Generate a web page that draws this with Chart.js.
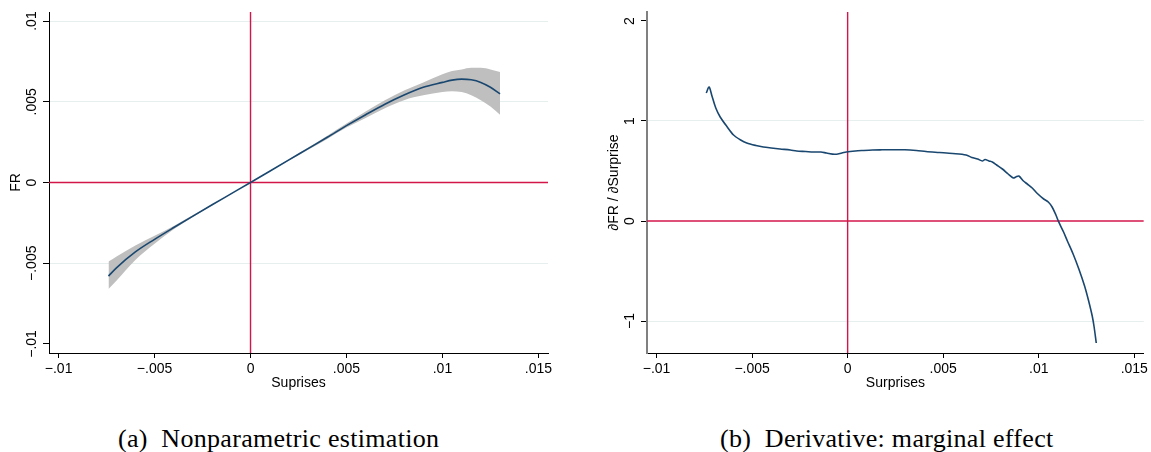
<!DOCTYPE html>
<html>
<head>
<meta charset="utf-8">
<script src="https://cdn.jsdelivr.net/npm/chart.js@4.4.0/dist/chart.umd.min.js"></script>
<style>
  html, body { margin: 0; padding: 0; background: #fff; }
  #wrap { position: relative; width: 1151px; height: 452px; overflow: hidden; }
  canvas { position: absolute; top: 0; }
  #fit { left: 0; }
  #deriv { left: 575px; }
  .cap { position: absolute; top: 424px; font-family: "Liberation Serif", "DejaVu Serif", serif; font-size: 26px; letter-spacing: 0.3px; color: #000; white-space: pre; }
</style>
</head>
<body>
<div id="wrap">
  <canvas id="fit" width="575" height="400"></canvas>
  <canvas id="deriv" width="576" height="400"></canvas>
  <div class="cap" style="left:118px">(a)  Nonparametric estimation</div>
  <div class="cap" style="left:720px">(b)  Derivative: marginal effect</div>
</div>
<script>
// (a) estimativa não paramétrica: FR em função da surpresa, com banda de confiança
const surpriseX = [-0.0074, -0.007, -0.006, -0.005, -0.004, -0.003, -0.002, -0.001, 0, 0.001, 0.002, 0.003, 0.004,
  0.005, 0.006, 0.007, 0.008, 0.009, 0.01, 0.0105, 0.011, 0.0115, 0.012, 0.0125, 0.013];
const fitFR = [-0.0058, -0.0053, -0.0043, -0.00352, -0.00279, -0.00208, -0.00138, -0.00069, 0, 0.0007, 0.0014, 0.0021, 0.0028,
  0.00352, 0.0042, 0.00485, 0.00542, 0.0059, 0.0062, 0.00634, 0.0064, 0.00636, 0.0062, 0.0059, 0.00549];
const ciUpper = [-0.0049, -0.0046, -0.0039, -0.0033, -0.0027, -0.00202, -0.00135, -0.00068, 0, 0.00072, 0.00144, 0.00217, 0.0029,
  0.00365, 0.0044, 0.0051, 0.0057, 0.0062, 0.0067, 0.0069, 0.007, 0.0071, 0.0071, 0.007, 0.00685];
const ciLower = [-0.0066, -0.0061, -0.0048, -0.0038, -0.0029, -0.00213, -0.00141, -0.0007, 0, 0.00068, 0.00136, 0.00203, 0.0027,
  0.0034, 0.004, 0.0046, 0.0051, 0.0054, 0.0056, 0.00565, 0.0056, 0.0054, 0.0051, 0.0047, 0.0042];

// (b) derivada: efeito marginal
const derivX = [-0.0074, -0.00725, -0.0071, -0.0069, -0.00667, -0.0063, -0.00597, -0.0056, -0.00528, -0.0048, -0.00441, -0.004,
  -0.00354, -0.003, -0.00267, -0.0022, -0.0018, -0.0014, -0.00111, -0.00068, -0.0003, -0.00007, 0.0004, 0.0008, 0.0013, 0.0018,
  0.0022, 0.003, 0.0036, 0.0041, 0.0048, 0.0055, 0.0062, 0.0065, 0.0068, 0.00705, 0.00719, 0.0074, 0.00757, 0.0078, 0.0081,
  0.0084, 0.00867, 0.0088, 0.00896, 0.0092, 0.0094, 0.00966, 0.0099, 0.01026, 0.0105, 0.0107, 0.0109, 0.01104, 0.0113, 0.0115,
  0.0118, 0.0121, 0.0124, 0.0126, 0.0128, 0.0129, 0.01301];
const derivY = [1.28, 1.34, 1.25, 1.13, 1.04, 0.94, 0.86, 0.81, 0.78, 0.755, 0.74, 0.73,
  0.72, 0.71, 0.70, 0.695, 0.69, 0.69, 0.68, 0.667, 0.68, 0.69, 0.70, 0.705, 0.71, 0.712,
  0.713, 0.712, 0.705, 0.695, 0.685, 0.675, 0.66, 0.635, 0.62, 0.60, 0.615, 0.60, 0.59, 0.56, 0.52,
  0.47, 0.43, 0.44, 0.45, 0.40, 0.37, 0.33, 0.28, 0.22, 0.19, 0.14, 0.06, -0.007, -0.11, -0.20,
  -0.33, -0.48, -0.65, -0.79, -0.95, -1.06, -1.22];

// eixos
const xTicks = [-0.01, -0.005, 0, 0.005, 0.01, 0.015];
const xTickLabels = ['\u2212.01', '\u2212.005', '0', '.005', '.01', '.015'];
const frTicks = [-0.01, -0.005, 0, 0.005, 0.01];
const frTickLabels = ['\u2212.01', '\u2212.005', '0', '.005', '.01'];
const frGridAt = [-0.005, 0.005, 0.01];
const dTicks = [-1, 0, 1, 2];
const dTickLabels = ['\u22121', '0', '1', '2'];
const dGridAt = [-1, 1];

const NAVY = '#1a476f', RED = '#d3164a', BAND = '#bfbfbf', GRID = '#e6eeee';
const SANS = '"Liberation Sans", Arial, sans-serif';

Chart.defaults.font.family = SANS;
Chart.defaults.font.size = 14;
Chart.defaults.color = '#000';

function pts(xs, ys) {
  return xs.map((x, i) => ({ x: x, y: ys[i] }));
}

// rótulos do eixo y girados 90° (estilo Stata)
function yLabelsPlugin(labels) {
  return {
    id: 'yLabels',
    afterDraw(chart) {
      const y = chart.scales.y;
      const ctx = chart.ctx;
      ctx.save();
      ctx.fillStyle = '#000';
      ctx.font = '14px ' + SANS;
      ctx.textAlign = 'center';
      ctx.textBaseline = 'middle';
      y.ticks.forEach((t, i) => {
        ctx.save();
        ctx.translate(chart.chartArea.left - 17, y.getPixelForValue(t.value));
        ctx.rotate(-Math.PI / 2);
        ctx.fillText(labels[i], 0, 0);
        ctx.restore();
      });
      ctx.restore();
    }
  };
}

function makePanel(canvasId, cfg) {
  return new Chart(document.getElementById(canvasId), {
    type: 'line',
    data: { datasets: cfg.datasets },
    options: {
      responsive: false,
      animation: false,
      devicePixelRatio: 1,
      layout: { padding: { left: cfg.padLeft, right: cfg.padRight, top: 12, bottom: 0 } },
      plugins: { legend: { display: false }, tooltip: { enabled: false } },
      elements: { point: { radius: 0 } },
      scales: {
        x: {
          type: 'linear', min: -0.0105, max: 0.0155,
          afterBuildTicks: s => { s.ticks = xTicks.map(v => ({ value: v })); },
          afterFit: s => { s.height = 47; },
          ticks: { callback: (v, i) => xTickLabels[i], padding: 3, maxRotation: 0, autoSkip: false, color: '#000' },
          grid: { drawOnChartArea: false, drawTicks: true, tickLength: 5, tickColor: '#000' },
          border: { color: '#000', width: 1 },
          title: { display: true, text: cfg.xTitle, color: '#000', font: { size: 14 }, padding: { top: 0, bottom: 8 } }
        },
        y: {
          type: 'linear', min: cfg.yMin, max: cfg.yMax,
          afterBuildTicks: s => { s.ticks = cfg.yTicks.map(v => ({ value: v })); },
          afterFit: s => { s.width = 49; },
          ticks: { display: false },
          grid: {
            color: c => (c.tick && cfg.gridAt.includes(c.tick.value)) ? GRID : 'rgba(0,0,0,0)',
            lineWidth: 1, drawTicks: true, tickLength: 6, tickColor: '#000'
          },
          border: { color: cfg.axisColor, width: cfg.axisWidth },
          title: { display: true, text: cfg.yTitle, color: '#000', font: { size: 14 }, padding: { top: 8, bottom: 0 } }
        }
      }
    },
    plugins: [yLabelsPlugin(cfg.yLabels)]
  });
}

const frMin = -0.01056, frMax = 0.01056;
makePanel('fit', {
  padLeft: 0, padRight: 27,
  yMin: frMin, yMax: frMax, yTicks: frTicks, yLabels: frTickLabels, gridAt: frGridAt,
  axisColor: '#000', axisWidth: 1,
  xTitle: 'Suprises', yTitle: 'FR',
  datasets: [
    { data: pts(surpriseX, fitFR), borderColor: NAVY, borderWidth: 1.6, cubicInterpolationMode: 'monotone', order: 0 },
    { data: [{ x: -0.0105, y: 0 }, { x: 0.0155, y: 0 }], borderColor: RED, borderWidth: 1.4, order: 1 },
    { data: [{ x: 0, y: frMin }, { x: 0, y: frMax }], borderColor: RED, borderWidth: 1.4, order: 1 },
    { data: pts(surpriseX, ciUpper), borderColor: 'rgba(0,0,0,0)', backgroundColor: BAND, fill: '+1', cubicInterpolationMode: 'monotone', order: 2 },
    { data: pts(surpriseX, ciLower), borderColor: 'rgba(0,0,0,0)', fill: false, cubicInterpolationMode: 'monotone', order: 3 }
  ]
});

const dMin = -1.32, dMax = 2.09;
makePanel('deriv', {
  padLeft: 23, padRight: 6,
  yMin: dMin, yMax: dMax, yTicks: dTicks, yLabels: dTickLabels, gridAt: dGridAt,
  axisColor: '#808080', axisWidth: 2,
  xTitle: 'Surprises', yTitle: '\u2202FR / \u2202Surprise',
  datasets: [
    { data: pts(derivX, derivY), borderColor: NAVY, borderWidth: 1.6, tension: 0.3, order: 0 },
    { data: [{ x: -0.0105, y: 0 }, { x: 0.0155, y: 0 }], borderColor: RED, borderWidth: 1.4, order: 1 },
    { data: [{ x: 0, y: dMin }, { x: 0, y: dMax }], borderColor: RED, borderWidth: 1.4, order: 1 }
  ]
});
</script>
</body>
</html>
